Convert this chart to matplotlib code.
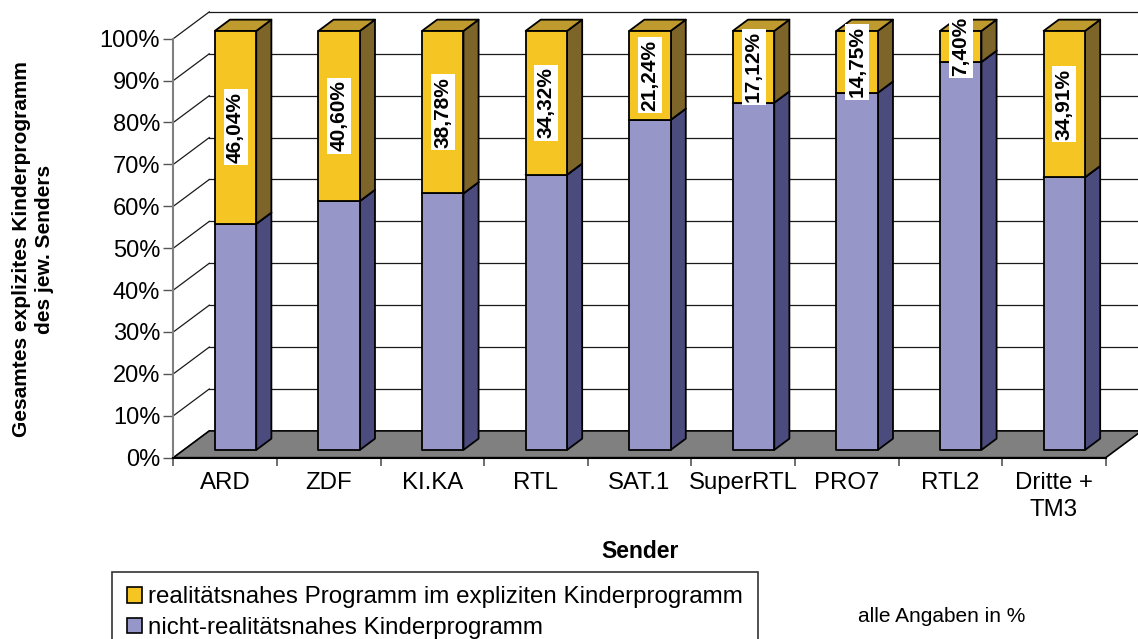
import matplotlib.pyplot as plt
from matplotlib.patches import Polygon, Patch

plt.rcParams['font.family'] = ['Liberation Sans', 'DejaVu Sans']

# data
senders = ['ARD', 'ZDF', 'KI.KA', 'RTL', 'SAT.1', 'SuperRTL', 'PRO7', 'RTL2', 'Dritte +\nTM3']
realitaetsnah = [46.04, 40.60, 38.78, 34.32, 21.24, 17.12, 14.75, 7.40, 34.91]
nicht_realitaetsnah = [100 - v for v in realitaetsnah]
y_ticks = list(range(0, 101, 10))

# colours
yellow = ('#F5C623', '#7D6529', '#BE9A2F')   # front, side, top
blue = ('#9696C8', '#4B4B7E', '#6E6EA0')
floor_col = '#808080'

# oblique depth offset (x in category units, y in percent)
DX, DY = 0.3475, 6.4
d0, d1 = 0.29, 0.71      # bar depth
bw = 0.4                 # bar width


def box(ax, x0, x1, y0, y1, cols, z):
    f0x, f0y = d0 * DX, d0 * DY
    f1x, f1y = d1 * DX, d1 * DY
    front = [(x0 + f0x, y0 + f0y), (x1 + f0x, y0 + f0y), (x1 + f0x, y1 + f0y), (x0 + f0x, y1 + f0y)]
    side = [(x1 + f0x, y0 + f0y), (x1 + f1x, y0 + f1y), (x1 + f1x, y1 + f1y), (x1 + f0x, y1 + f0y)]
    top = [(x0 + f0x, y1 + f0y), (x1 + f0x, y1 + f0y), (x1 + f1x, y1 + f1y), (x0 + f1x, y1 + f1y)]
    for pts, c in [(side, cols[1]), (top, cols[2]), (front, cols[0])]:
        ax.add_patch(Polygon(pts, closed=True, facecolor=c, edgecolor='black',
                             linewidth=1.3, joinstyle='round', zorder=z, clip_on=False))


fig = plt.figure(figsize=(11.38, 6.39), dpi=100)
ax = fig.add_axes([173.3 / 1138, (639 - 457.7) / 639, 932.4 / 1138, 419 / 639])
ax.set_xlim(0, len(senders))
ax.set_ylim(0, 100)
ax.patch.set_visible(False)

n = len(senders)
# back wall grid + left wall slants
for t in y_ticks:
    ax.plot([DX, n + DX + 1], [t + DY, t + DY], color='#1a1a1a', lw=0.9, zorder=1, clip_on=False)
    ax.plot([0, DX], [t, t + DY], color='#1a1a1a', lw=0.9, zorder=1, clip_on=False)

# floor
ax.add_patch(Polygon([(0, 0), (n, 0), (n + DX, DY), (DX, DY)], closed=True,
                     facecolor=floor_col, edgecolor='black', linewidth=1.2, zorder=2, clip_on=False))

# bars
for i in range(n):
    x0 = i + 0.5 - bw / 2
    x1 = i + 0.5 + bw / 2
    box(ax, x0, x1, 0, nicht_realitaetsnah[i], blue, 3 + i)
    box(ax, x0, x1, nicht_realitaetsnah[i], 100, yellow, 3 + i)
    yc = nicht_realitaetsnah[i] + realitaetsnah[i] / 2 + d0 * DY
    ax.text(i + 0.5 + d0 * DX, yc, f'{realitaetsnah[i]:.2f}%'.replace('.', ','),
            rotation=90, ha='center', va='center', fontsize=15, fontweight='bold',
            bbox=dict(facecolor='white', edgecolor='none', pad=1.8), zorder=20)

# axes styling
for s in ['top', 'right']:
    ax.spines[s].set_visible(False)
ax.spines['left'].set_color('#808080')
ax.spines['left'].set_linewidth(1.5)
ax.spines['bottom'].set_color('black')
ax.spines['bottom'].set_linewidth(1.5)
ax.spines['bottom'].set_zorder(2.5)

ax.set_yticks(y_ticks)
ax.set_yticklabels([f'{t}%' for t in y_ticks])
ax.tick_params(axis='y', length=7.2, width=1.0, color='#555555', pad=2.2, labelsize=17)

ax.set_xticks([i + 0.5 for i in range(n)])
ax.set_xticklabels(senders, linespacing=1.3)
ax.set_xticks(range(n + 1), minor=True)
ax.tick_params(axis='x', which='major', length=0, pad=10, labelsize=17.3)
ax.tick_params(axis='x', which='minor', length=5.8, width=1.2, color='#555555')

fig.text(33 / 1138, 1 - 249 / 639, 'Gesamtes explizites Kinderprogramm\ndes jew. Senders',
         rotation=90, ha='center', va='center', fontsize=15, fontweight='bold',
         multialignment='center', linespacing=1.2)
fig.text(640 / 1138, 1 - 551 / 639, 'Sender', ha='center', va='center',
         fontsize=16.5, fontweight='bold')
fig.text(942 / 1138, 1 - 616 / 639, 'alle Angaben in %', ha='center', va='center', fontsize=15)

handles = [Patch(facecolor=yellow[0], edgecolor='black', linewidth=1.2),
           Patch(facecolor=blue[0], edgecolor='black', linewidth=1.2)]
leg = fig.legend(handles, ['realitätsnahes Programm im expliziten Kinderprogramm',
                           'nicht-realitätsnahes Kinderprogramm'],
                 loc='upper left', bbox_to_anchor=(112 / 1138, 1 - 572 / 639),
                 borderaxespad=0, fontsize=17.4, frameon=True, fancybox=False,
                 edgecolor='black', handlelength=0.63, handleheight=0.63,
                 handletextpad=0.28, borderpad=0.6, labelspacing=0.35)
leg.get_frame().set_linewidth(1.2)

fig.savefig('out.png', dpi=100)
